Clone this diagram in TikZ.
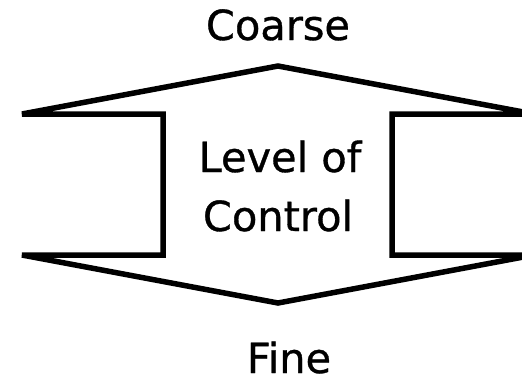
\documentclass[tikz,border=0pt]{standalone}
\usepackage{fontspec}
\setmainfont{DejaVu Sans}[FakeBold=0.8]
\begin{document}
\begin{tikzpicture}[x=1pt,y=-1pt,
  outline/.style={draw=black,line width=5.5pt,line join=miter},
  label/.style={anchor=base,inner sep=0pt,font=\fontsize{41.5}{59}\selectfont}]
\useasboundingbox (0,0) rectangle (522,383);
\clip (0,0) rectangle (522,383);
\fill[white] (0,0) rectangle (522,383);
\coordinate (lt) at (22,114);
\coordinate (top) at (278,66);
\coordinate (rt) at (534,114);
\coordinate (rit) at (392,114);
\coordinate (rib) at (392,255);
\coordinate (rb) at (534,255);
\coordinate (bot) at (278,303);
\coordinate (lb) at (22,255);
\coordinate (lib) at (163,255);
\coordinate (lit) at (163,114);
\draw[outline] (lt) -- (top) -- (rt) -- (rit) -- (rib) -- (rb) -- (bot) -- (lb) -- (lib) -- (lit) -- cycle;
\node[label] (coarse) at (278,40) {Coarse};
\node[label] (lvl) at (280,172) {Level of};
\node[label] (ctl) at (278,231) {Control};
\node[label] (fine) at (289,373) {Fine};
\end{tikzpicture}
\end{document}
